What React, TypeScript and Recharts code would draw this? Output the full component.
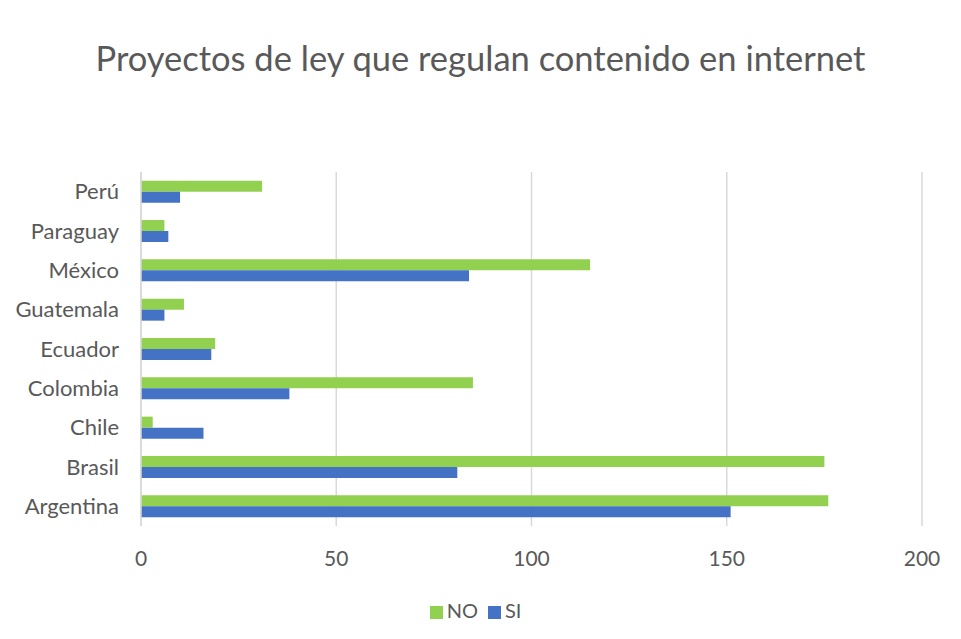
import { BarChart, Bar, XAxis, YAxis, CartesianGrid, Legend } from "recharts"

const countries = ["Perú", "Paraguay", "México", "Guatemala", "Ecuador", "Colombia", "Chile", "Brasil", "Argentina"]
const noValues = [31, 6, 115, 11, 19, 85, 3, 175, 176]
const siValues = [10, 7, 84, 6, 18, 38, 16, 81, 151]
const xTicks = [0, 50, 100, 150, 200]

const FONT = "Lato, 'Open Sans', sans-serif"
const TEXT_COLOR = "#595959"

const chartData = countries.map((name, i) => ({
  name,
  NO: noValues[i],
  SI: siValues[i],
}))

export default function App() {
  return (
    <div style={{ position: "absolute", top: 0, left: 0, width: 961, height: 639, background: "#fff", fontFamily: FONT }}>
      <div
        style={{
          position: "absolute",
          top: 36,
          left: 0,
          width: 961,
          textAlign: "center",
          fontSize: 34.5,
          lineHeight: "44px",
          color: TEXT_COLOR,
        }}
      >
        Proyectos de ley que regulan contenido en internet
      </div>
      <BarChart
        width={961}
        height={639}
        data={chartData}
        layout="vertical"
        margin={{ top: 172, right: 39, bottom: 23, left: 0 }}
        barCategoryGap="22%"
        barGap={0}
      >
        <CartesianGrid horizontal={false} stroke="#d9d9d9" strokeWidth={1.5} />
        <XAxis
          type="number"
          domain={[0, 200]}
          ticks={xTicks}
          axisLine={false}
          tickLine={false}
          tick={{ fill: TEXT_COLOR, fontSize: 21, fontFamily: FONT }}
          tickMargin={19}
          height={50}
        />
        <YAxis
          type="category"
          dataKey="name"
          width={141}
          axisLine={{ stroke: "#d9d9d9", strokeWidth: 1.5 }}
          tickLine={false}
          tick={{ fill: TEXT_COLOR, fontSize: 22, fontFamily: FONT }}
          tickMargin={16}
        />
        <Legend
          verticalAlign="bottom"
          align="center"
          iconType="square"
          iconSize={13}
          height={40}
          wrapperStyle={{ left: 0, bottom: 1, width: 961, fontSize: 20, fontFamily: FONT, color: TEXT_COLOR }}
          formatter={(value: string) => <span style={{ color: TEXT_COLOR }}>{value}</span>}
        />
        <Bar dataKey="NO" fill="#92d050" isAnimationActive={false} />
        <Bar dataKey="SI" fill="#4472c4" isAnimationActive={false} />
      </BarChart>
    </div>
  )
}
